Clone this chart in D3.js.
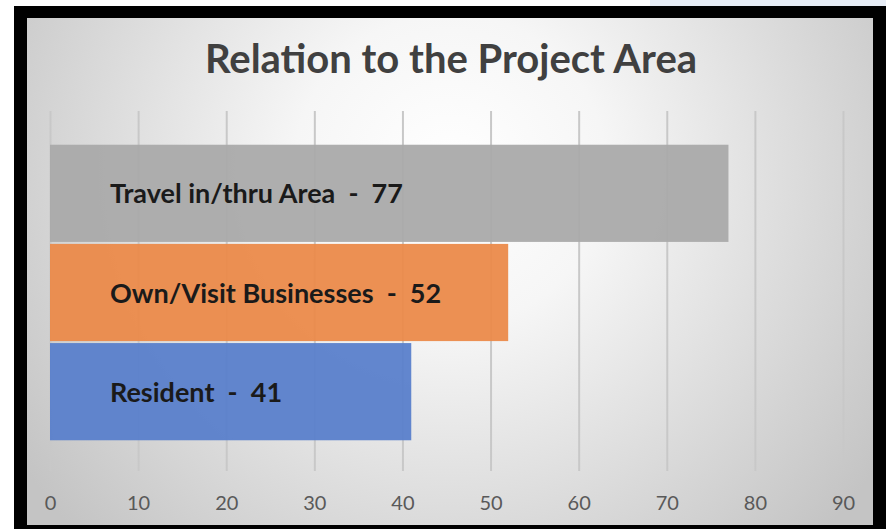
<!DOCTYPE html>
<html>
<head>
<meta charset="utf-8">
<script src="https://cdn.jsdelivr.net/npm/d3@7/dist/d3.min.js"></script>
<style>
  html, body { margin: 0; padding: 0; background: #fff; }
  svg { display: block; }
</style>
</head>
<body>
<div id="chart"></div>
<script>
'use strict';

var categories = ['Travel in/thru Area', 'Own/Visit Businesses', 'Resident'],
    values = [77, 52, 41],
    barColors = ['#aaaaaa', '#eb8a4a', '#5a80cb'],
    tickValues = [0, 10, 20, 30, 40, 50, 60, 70, 80, 90],
    title = 'Relation to the Project Area';

var width = 886,
    height = 529,
    plot = { left: 50, right: 843, top: 111, bottom: 471 };

var svg = d3.select('#chart').append('svg')
  .attr('width', width)
  .attr('height', height);

var defs = svg.append('defs');

var bg = defs.append('radialGradient')
  .attr('id', 'bg')
  .attr('gradientUnits', 'userSpaceOnUse')
  .attr('cx', 450).attr('cy', 170).attr('r', 520);
bg.append('stop').attr('offset', 0).attr('stop-color', '#ffffff');
bg.append('stop').attr('offset', 0.3).attr('stop-color', '#f6f6f6');
bg.append('stop').attr('offset', 1).attr('stop-color', '#c4c4c4');

var grid = defs.append('linearGradient')
  .attr('id', 'grid')
  .attr('gradientUnits', 'userSpaceOnUse')
  .attr('x1', 0).attr('y1', plot.top).attr('x2', 0).attr('y2', plot.bottom);
grid.append('stop').attr('offset', 0).attr('stop-color', '#c8c8c8');
grid.append('stop').attr('offset', 0.6).attr('stop-color', '#a2a2a2');
grid.append('stop').attr('offset', 1).attr('stop-color', '#7c7c7c');

// top strip of the screenshot
svg.append('rect')
  .attr('x', 650).attr('y', 0).attr('width', 236).attr('height', 6)
  .attr('fill', '#e6ecf5');

// frame
svg.append('rect')
  .attr('x', 14).attr('y', 6).attr('width', 872).attr('height', 523)
  .attr('fill', '#000');
svg.append('rect')
  .attr('x', 27).attr('y', 18).attr('width', 846).attr('height', 507)
  .attr('fill', 'url(#bg)');

var x = d3.scaleLinear().domain([0, 90]).range([plot.left, plot.right]);
var y = d3.scaleBand().domain(categories)
  .range([plot.top + 2, plot.bottom + 1])
  .paddingInner(0.02)
  .paddingOuter(0.32);

// gridlines
var gridAxis = d3.axisBottom(x)
  .tickValues(tickValues)
  .tickSize(-(plot.bottom - plot.top))
  .tickFormat('');
svg.append('g')
  .attr('class', 'grid')
  .attr('transform', 'translate(0,' + plot.bottom + ')')
  .call(gridAxis)
  .call(function (g) {
    g.select('.domain').remove();
    g.selectAll('line').attr('stroke', 'url(#grid)').attr('stroke-width', 2);
  });

// bars
svg.append('g').selectAll('rect')
  .data(categories)
  .enter().append('rect')
  .attr('x', x(0))
  .attr('y', function (d) { return y(d); })
  .attr('width', function (d, i) { return x(values[i]) - x(0); })
  .attr('height', y.bandwidth())
  .attr('fill', function (d, i) { return barColors[i]; })
  .attr('fill-opacity', 0.95);

// data labels inside bars
svg.append('g').selectAll('text')
  .data(categories)
  .enter().append('text')
  .attr('x', x(0) + 60)
  .attr('y', function (d) { return y(d) + y.bandwidth() / 2 + 10; })
  .attr('font-family', 'Lato, "Open Sans", sans-serif')
  .attr('font-weight', 700)
  .attr('font-size', 27)
  .attr('fill', '#1a1a1a')
  .attr('xml:space', 'preserve')
  .style('white-space', 'pre')
  .text(function (d, i) { return d + '  -  ' + values[i]; });

// x axis labels
var axis = d3.axisBottom(x).tickValues(tickValues).tickSize(0).tickPadding(0);
svg.append('g')
  .attr('transform', 'translate(0,' + 510 + ')')
  .call(axis)
  .call(function (g) {
    g.select('.domain').remove();
    g.selectAll('text')
      .attr('dy', 0)
      .attr('font-family', 'Lato, "Open Sans", sans-serif')
      .attr('font-size', 20)
      .attr('fill', '#595959');
  });

// title
svg.append('text')
  .attr('x', 451)
  .attr('y', 73)
  .attr('text-anchor', 'middle')
  .attr('font-family', 'Lato, "Open Sans", sans-serif')
  .attr('font-weight', 700)
  .attr('font-size', 40)
  .attr('fill', '#404040')
  .text(title);
</script>
</body>
</html>
